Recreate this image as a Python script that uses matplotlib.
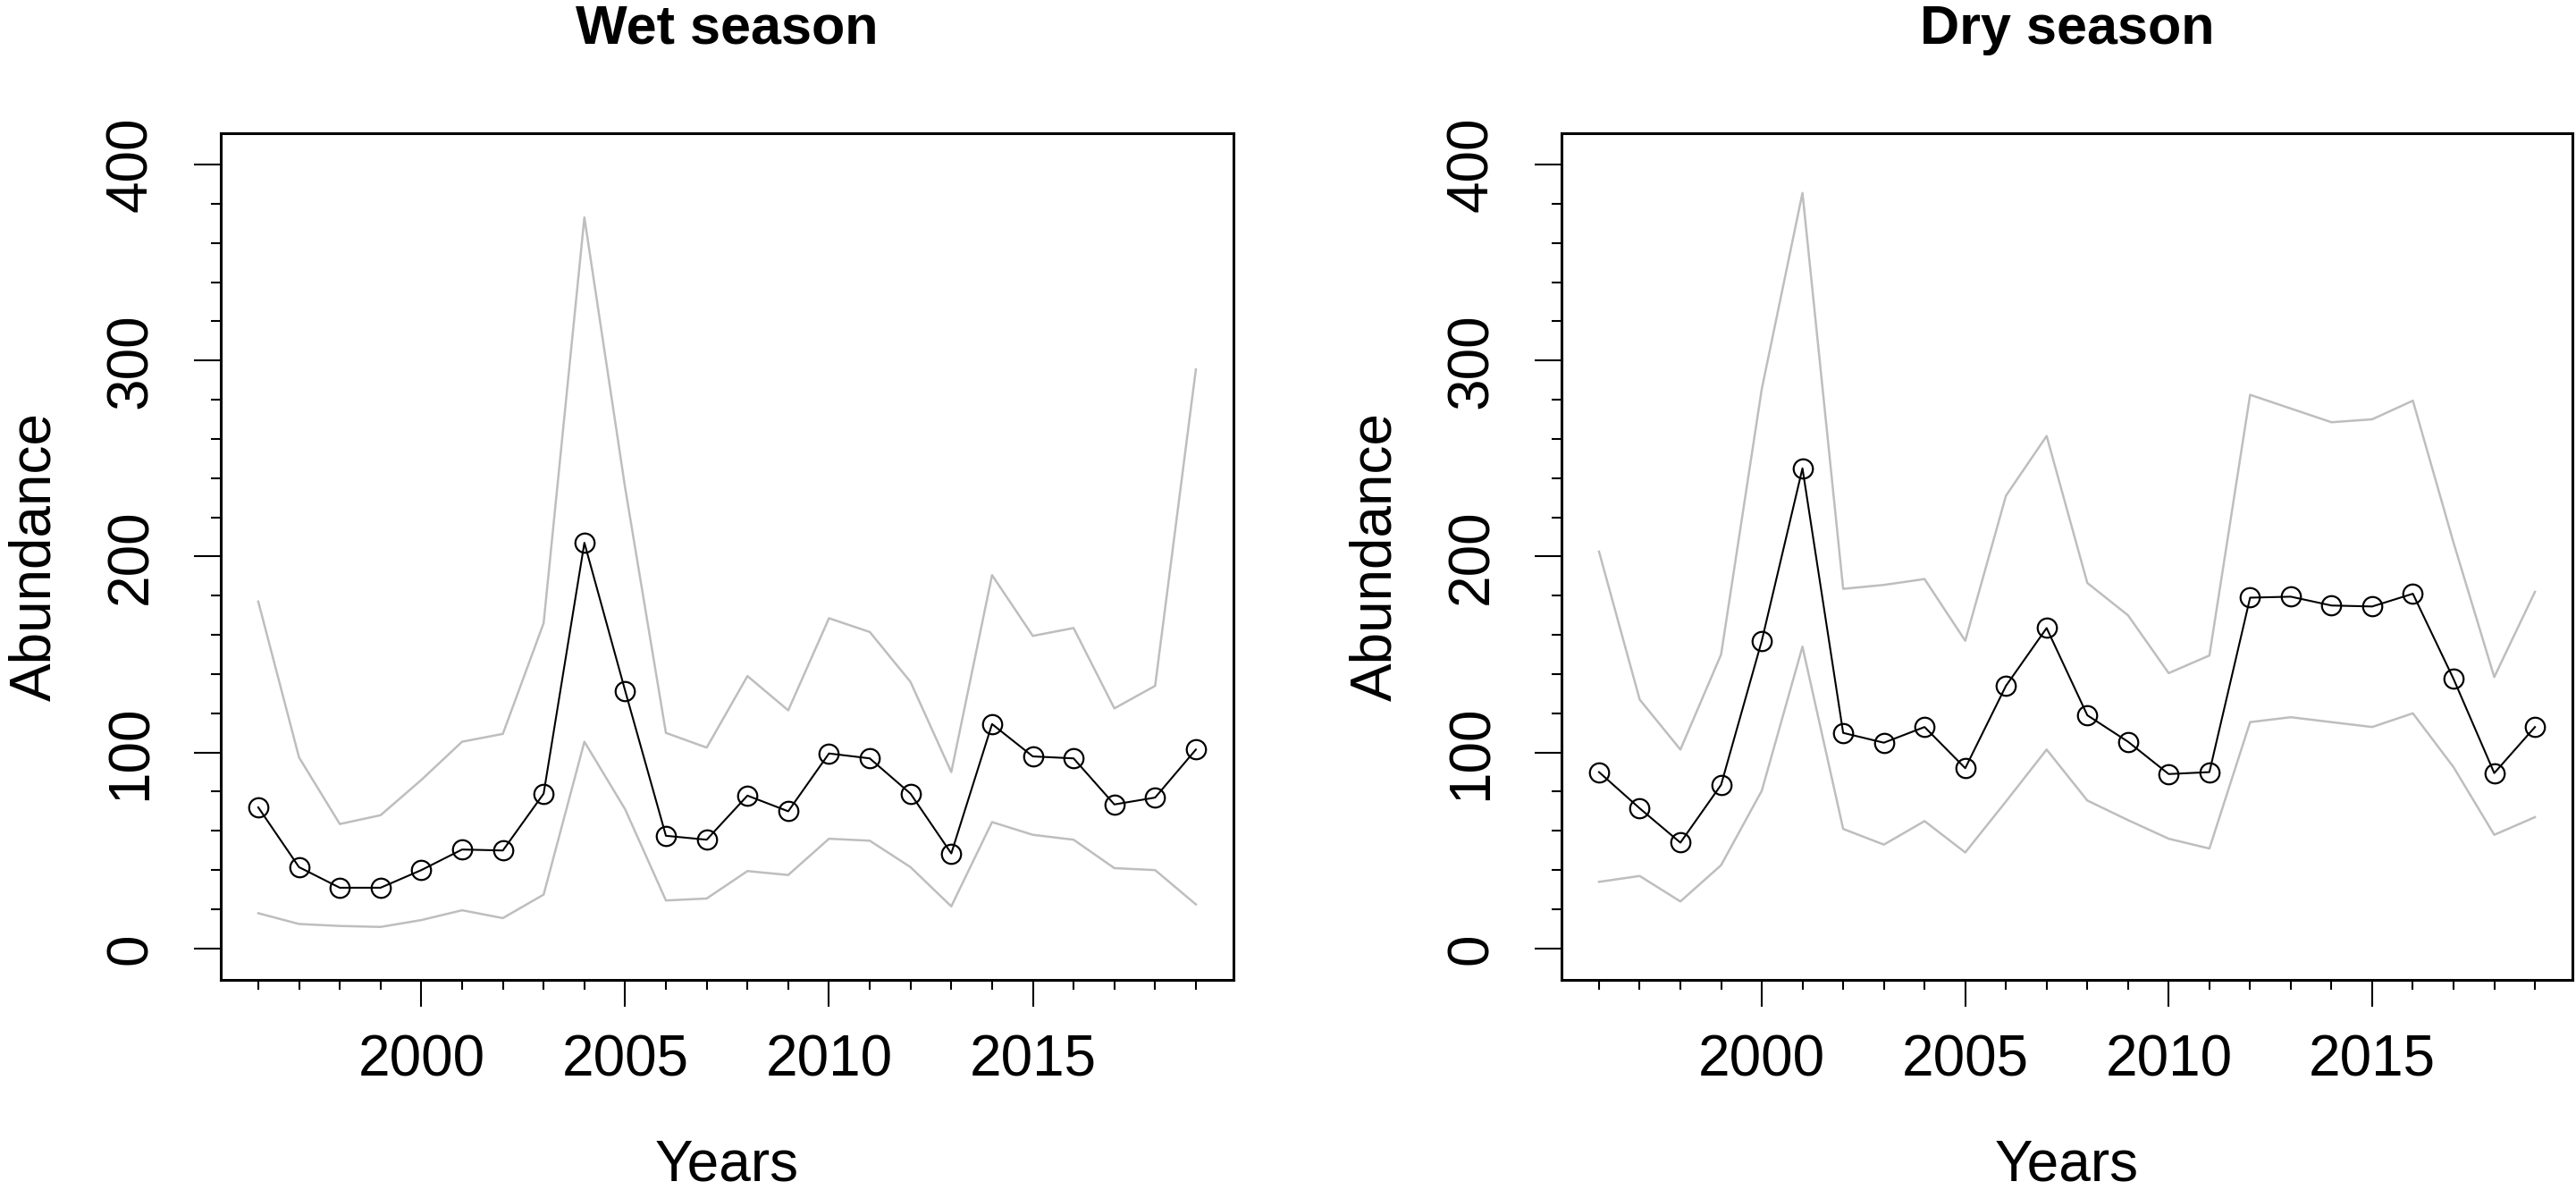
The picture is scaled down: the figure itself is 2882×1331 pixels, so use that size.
import numpy as np
import matplotlib
matplotlib.use("Agg")
import matplotlib.pyplot as plt
from matplotlib.ticker import FixedLocator

plt.rcParams['font.family'] = ['Liberation Sans', 'DejaVu Sans']

years = list(range(1996, 2020))

# wet season: mean and the two grey bounds
wet_mean = [72, 41.5, 31, 31, 40, 50.5, 50, 79, 207, 131.5, 57.5, 55.5, 78, 70, 99.5,
            97, 79, 48.5, 114.5, 98, 97, 73.5, 77, 101.5]
wet_upper = [177, 97.5, 63.5, 68, 86, 105.5, 109.5, 166, 373, 235, 110, 102.5, 139, 121.5,
             168.5, 161.5, 136, 90, 190.5, 159.5, 163.5, 122.5, 134, 295.5]
wet_lower = [18, 12.5, 11.5, 11, 14.5, 19.5, 15.5, 27.5, 105.5, 71, 24.5, 25.5, 39.5, 37.5,
             56, 55, 41.5, 21.5, 64.5, 58, 55.5, 41, 40, 22.5]

# dry season
dry_mean = [90, 71.5, 54, 83.5, 157, 245, 110, 105, 113, 92, 134, 163.5, 119, 105.5, 89,
            90, 179, 179.5, 175, 174.5, 181, 137.5, 89.5, 113]
dry_upper = [202.5, 127, 101.5, 150, 285.5, 385.5, 183.5, 185.5, 188.5, 157, 231, 261.5,
             186.5, 170, 140.5, 149.5, 282.5, 275.5, 268.5, 270, 279.5, 207, 138.5, 182]
dry_lower = [34, 37, 24, 42.5, 80.5, 154, 61, 53, 65, 49, 75, 101.5, 75.5, 65.5, 56,
             51, 115.5, 118, 115.5, 113, 120, 92.5, 58, 67]

titles = ["Wet season", "Dry season"]
x_major = [2000, 2005, 2010, 2015]
y_major = [0, 100, 200, 300, 400]

fig = plt.figure(figsize=(28.82, 13.31), dpi=100)
ax1 = fig.add_axes([0.0857, 0.1766, 0.3931, 0.7115])
ax2 = fig.add_axes([0.6062, 0.1766, 0.3924, 0.7115])

panels = [(ax1, wet_mean, wet_upper, wet_lower), (ax2, dry_mean, dry_upper, dry_lower)]

for i, (ax, mean, upper, lower) in enumerate(panels):
    ax.plot(years, upper, color='#BEBEBE', lw=1.8)
    ax.plot(years, lower, color='#BEBEBE', lw=1.8)
    ax.plot(years, mean, color='black', lw=1.5, marker='o', ms=15.5, mfc='none',
            mec='black', mew=1.6)

    ax.set_xlim(1995.08, 2019.92)
    ax.set_ylim(-16, 416)

    ax.xaxis.set_major_locator(FixedLocator(x_major))
    ax.xaxis.set_minor_locator(FixedLocator(years))
    ax.yaxis.set_major_locator(FixedLocator(y_major))
    ax.yaxis.set_minor_locator(FixedLocator(list(range(0, 401, 20))))

    ax.tick_params(axis='both', which='major', length=21.5, width=1.5, labelsize=46)
    ax.tick_params(axis='both', which='minor', length=7.8, width=1.5)
    ax.tick_params(axis='x', which='major', pad=22)
    ax.tick_params(axis='y', which='major', pad=29)
    for lab in ax.get_yticklabels():
        lab.set_rotation(90)
        lab.set_va('center')

    for sp in ax.spines.values():
        sp.set_linewidth(2.2)

    ax.set_title(titles[i], fontsize=44, fontweight='bold', pad=72)
    ax.set_xlabel("Years", fontsize=46)
    ax.set_ylabel("Abundance", fontsize=46)
    ax.xaxis.set_label_coords(0.5, -0.188)
    ax.yaxis.set_label_coords(-0.157, 0.5)

fig.savefig("out.png", dpi=100)
